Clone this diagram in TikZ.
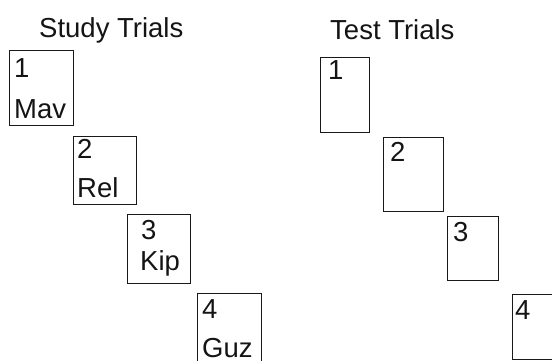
\documentclass[tikz,border=0pt]{standalone}
\usepackage{fontspec}
\setmainfont{Liberation Sans}
\begin{document}
\begin{tikzpicture}[x=1pt,y=-1pt,
  trial/.style={draw=black!90, line width=1.1pt, anchor=north west, inner sep=0pt, rectangle},
  lbl/.style={anchor=base west, inner sep=0pt, font=\fontsize{27.5}{30}\selectfont, text=black!92}]
\useasboundingbox (0,0) rectangle (552,360);
\clip (0,0) rectangle (552,360);
% titles
\node[lbl] (studyT) at (39,37) {Study Trials};
\node[lbl] (testT) at (330,39) {Test Trials};
% study boxes
\node[trial, minimum width=64pt, minimum height=75pt] (s1) at (9,50) {};
\node[trial, minimum width=63pt, minimum height=68pt] (s2) at (73,136) {};
\node[trial, minimum width=63pt, minimum height=69pt] (s3) at (127,214) {};
\node[trial, minimum width=64pt, minimum height=72pt] (s4) at (197,293) {};
\node[lbl] (s1n) at (14,77) {1};
\node[lbl] (s1w) at (14,118) {Mav};
\node[lbl] (s2n) at (77,158) {2};
\node[lbl] (s2w) at (77,197) {Rel};
\node[lbl] (s3n) at (141,239) {3};
\node[lbl] (s3w) at (140,270) {Kip};
\node[lbl] (s4n) at (202,318) {4};
\node[lbl] (s4w) at (202,357) {Guz};
% test boxes
\node[trial, minimum width=49pt, minimum height=75pt] (t1) at (320,57) {};
\node[trial, minimum width=60pt, minimum height=74pt] (t2) at (383,137) {};
\node[trial, minimum width=51pt, minimum height=64pt] (t3) at (447,216) {};
\node[trial, minimum width=50pt, minimum height=65pt] (t4) at (512,294) {};
\node[lbl] (t1n) at (328,79) {1};
\node[lbl] (t2n) at (390,161) {2};
\node[lbl] (t3n) at (453,241) {3};
\node[lbl] (t4n) at (515,319) {4};
\end{tikzpicture}
\end{document}
